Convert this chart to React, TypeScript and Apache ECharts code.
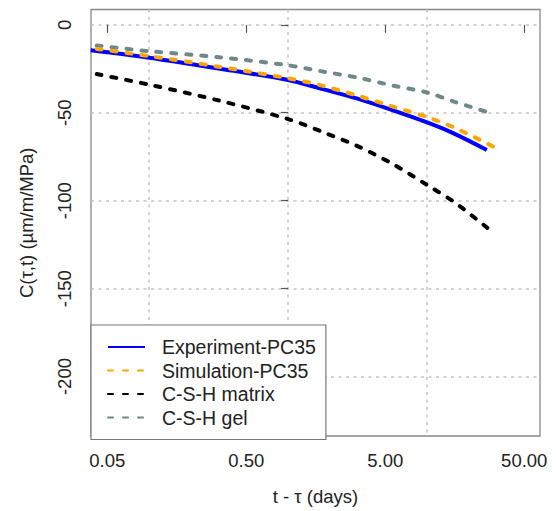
import React, { useEffect, useRef } from "react";
import * as echarts from "echarts";

// Axis ticks / grid (x in days, log scale)
const xTickDays = [0.05, 0.5, 5, 50];
const xGridDays = [0.1, 1, 10];
const yTicks = [0, -50, -100, -150, -200];

// Series (t - tau in days, C in µm/m/MPa)
const expDays = [0.038, 0.1, 0.316, 1, 1.78, 3.16, 5.62, 10, 15.1, 26.9];
const expVals = [-14.5, -18.7, -24.8, -31.4, -36.6, -42.0, -48.5, -55.5, -61.3, -71.2];

const simDays = [0.042, 0.1, 0.316, 1, 1.78, 3.16, 5.62, 10, 15.8, 30];
const simVals = [-13.7, -17.8, -23.8, -30.4, -34.7, -40.3, -46.4, -52.5, -58.5, -69.3];

const matDays = [0.042, 0.1, 0.316, 1, 1.78, 3.16, 5.62, 10, 15.8, 29];
const matVals = [-28.0, -34.0, -43.0, -53.6, -61.0, -69.0, -79.0, -91.1, -101.0, -117.3];

const gelDays = [0.042, 0.1, 0.316, 1, 1.78, 3.16, 5.62, 10, 15.8, 27];
const gelVals = [-11.8, -15.0, -18.4, -23.0, -26.6, -30.0, -34.5, -38.5, -43.8, -49.6];

const FONT = "'Liberation Sans', Arial, sans-serif";

export default function App() {
  const ref = useRef<HTMLDivElement>(null);
  useEffect(() => {
    document.body.style.margin = "0";
    const chart = echarts.init(ref.current!, null, { renderer: "svg" });
    const lg = (v: number) => Math.log10(v);
    const xMin = lg(0.0382);
    const xMax = lg(64.9);
    const pairs = (d: number[], v: number[]) => d.map((t, i) => [lg(t), v[i]]);
    const dashed = (color: string) => ({ color, width: 4, type: [5, 10], cap: "round" });
    const gridLine = { show: true, lineStyle: { color: "#c4c4c4", width: 1.5, type: [3, 4.5] } };
    const lbl = { fontFamily: FONT, fontSize: 18.5, color: "#222" };

    chart.setOption({
      animation: false,
      backgroundColor: "#fff",
      grid: {
        left: 91, top: 9.5, right: 16, bottom: 71,
        show: true, borderColor: "#888", borderWidth: 1.3, backgroundColor: "transparent",
      },
      xAxis: [
        {
          type: "value", min: xMin, max: xMax,
          axisLine: { show: false },
          axisTick: { show: true, length: 8, customValues: xTickDays.map(lg), lineStyle: { color: "#555", width: 1.2 } },
          axisLabel: {
            show: true, customValues: xTickDays.map(lg), margin: 15, ...lbl,
            formatter: (v: number) => Math.pow(10, v).toFixed(2),
          },
          splitLine: { show: false },
          name: "t - τ (days)", nameLocation: "middle", nameGap: 51,
          nameTextStyle: { ...lbl },
        },
        {
          type: "value", min: xMin, max: xMax, position: "bottom",
          axisLine: { show: false },
          axisTick: { show: false, customValues: xGridDays.map(lg) },
          axisLabel: { show: false },
          splitLine: gridLine,
        },
      ],
      yAxis: {
        type: "value", min: -233.8, max: 8.7,
        axisLine: { show: false },
        axisTick: { show: true, length: 7, customValues: yTicks, lineStyle: { color: "#555", width: 1.2 } },
        axisLabel: { show: true, customValues: yTicks, rotate: 90, margin: 17, ...lbl },
        splitLine: gridLine,
        name: "C(τ,t) (µm/m/MPa)", nameLocation: "middle", nameRotate: 90, nameGap: 55,
        nameTextStyle: { ...lbl },
      },
      legend: {
        orient: "vertical", left: 91, top: 325,
        data: ["Experiment-PC35", "Simulation-PC35", "C-S-H matrix", "C-S-H gel"],
        itemWidth: 37, itemHeight: 14, itemGap: 3.5,
        padding: [12, 10, 12, 16],
        backgroundColor: "#fff", borderColor: "#777", borderWidth: 1.2, borderRadius: 0,
        itemStyle: { opacity: 0 },
        textStyle: { fontFamily: FONT, fontSize: 19.5, lineHeight: 20, color: "#222", padding: [0, 0, 0, 12] },
      },
      series: [
        {
          name: "Experiment-PC35", type: "line", data: pairs(expDays, expVals),
          symbol: "none", smooth: 0.3,
          lineStyle: { color: "#0000ff", width: 4 }, itemStyle: { color: "#0000ff" }, z: 3,
        },
        {
          name: "Simulation-PC35", type: "line", data: pairs(simDays, simVals),
          symbol: "none", smooth: 0.3,
          lineStyle: dashed("#ffa500"), itemStyle: { color: "#ffa500" }, z: 4,
        },
        {
          name: "C-S-H matrix", type: "line", data: pairs(matDays, matVals),
          symbol: "none", smooth: 0.3,
          lineStyle: dashed("#000000"), itemStyle: { color: "#000000" },
        },
        {
          name: "C-S-H gel", type: "line", data: pairs(gelDays, gelVals),
          symbol: "none", smooth: 0.3,
          lineStyle: dashed("#6f8888"), itemStyle: { color: "#6f8888" },
        },
      ],
    });
    return () => chart.dispose();
  }, []);
  return <div ref={ref} style={{ width: 556, height: 511 }} />;
}
